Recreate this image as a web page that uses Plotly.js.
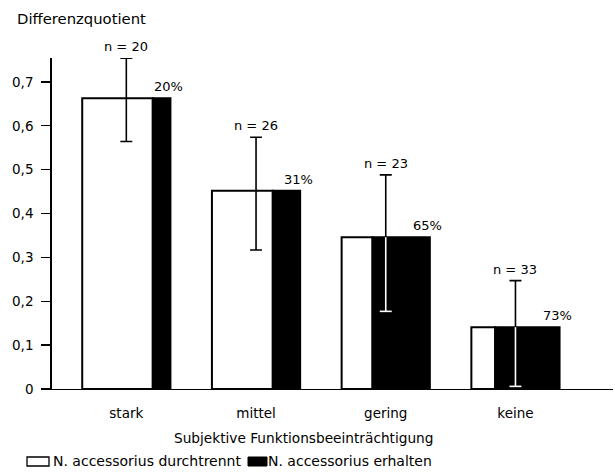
<!DOCTYPE html>
<html>
<head>
<meta charset="utf-8">
<script src="https://cdn.plot.ly/plotly-3.0.1.min.js"></script>
<style>html,body{margin:0;padding:0;background:#fff;}#chart{width:615px;height:472px;}</style>
</head>
<body>
<div id="chart"></div>
<script>
// ---- data ----
var categories = ["stark", "mittel", "gering", "keine"];
var quotient   = [0.663, 0.452, 0.346, 0.141];   // bar height (Differenzquotient)
var errUpper   = [0.754, 0.574, 0.488, 0.247];   // top of error bar
var errLower   = [0.564, 0.317, 0.177, 0.006];   // bottom of error bar
var nValues    = [20, 26, 23, 33];
var pctErhalten = [20, 31, 65, 73];              // % N. accessorius erhalten
var yTickVals  = [0, 0.1, 0.2, 0.3, 0.4, 0.5, 0.6, 0.7];
var yTickText  = ["0", "0,1", "0,2", "0,3", "0,4", "0,5", "0,6", "0,7"];
var legendLabels = ["N. accessorius durchtrennt", "N. accessorius erhalten"];
var xTitle = "Subjektive Funktionsbeeinträchtigung";
var yTitle = "Differenzquotient";

// ---- layout constants ----
var FONT = "DejaVu Sans, Liberation Sans, Arial, sans-serif";
var W = 0.68;                 // total bar width in category units
var idx = categories.map(function(_, i){ return i; });
var frac = pctErhalten.map(function(p){ return p / 100; });

var mL = 52, mR = 2, mT = 58, mB = 83;
var plotW = 615 - mL - mR, plotH = 472 - mT - mB;
function px2x(px){ return (px - mL) / plotW; }
function px2y(py){ return (472 - mB - py) / plotH; }

var whiteBars = {
  type: "bar", x: idx, y: quotient,
  width: frac.map(function(f){ return W * (1 - f); }),
  offset: frac.map(function(){ return -W / 2; }),
  marker: {color: "#ffffff", line: {color: "#000000", width: 2}},
  hoverinfo: "skip", showlegend: false
};
var blackBars = {
  type: "bar", x: idx, y: quotient,
  width: frac.map(function(f){ return W * f; }),
  offset: frac.map(function(f){ return -W / 2 + W * (1 - f); }),
  marker: {color: "#000000", line: {color: "#000000", width: 2}},
  hoverinfo: "skip", showlegend: false
};
var errBlack = {
  type: "scatter", mode: "markers", x: idx, y: quotient,
  marker: {size: 1, color: "rgba(0,0,0,0)"},
  error_y: {type: "data", symmetric: false,
    array: errUpper.map(function(u, i){ return u - quotient[i]; }),
    arrayminus: errLower.map(function(l, i){ return quotient[i] - l; }),
    color: "#000000", thickness: 1.6, width: 6},
  hoverinfo: "skip", showlegend: false
};
// where the error bar runs through the black part of a bar it appears white
var inBlackIdx = idx.filter(function(i){ return frac[i] > 0.5; });
var errWhiteLine = {
  type: "scatter", mode: "markers",
  x: inBlackIdx,
  y: inBlackIdx.map(function(i){ return quotient[i]; }),
  marker: {size: 1, color: "rgba(0,0,0,0)"},
  error_y: {type: "data", symmetric: false,
    array: inBlackIdx.map(function(){ return 0; }),
    arrayminus: inBlackIdx.map(function(i){ return quotient[i] - errLower[i]; }),
    color: "#ffffff", thickness: 1.6, width: 0},
  hoverinfo: "skip", showlegend: false
};
var errWhiteCap = {
  type: "scatter", mode: "markers",
  x: inBlackIdx,
  y: inBlackIdx.map(function(i){ return errLower[i]; }),
  marker: {size: 1, color: "rgba(0,0,0,0)"},
  error_x: {type: "constant", value: 0.046, color: "#ffffff", thickness: 1.6, width: 0},
  hoverinfo: "skip", showlegend: false
};

var annotations = [];
idx.forEach(function(i){
  annotations.push({x: i, y: errUpper[i], xref: "x", yref: "y", text: "n = " + nValues[i],
    showarrow: false, yanchor: "bottom", yshift: 2, font: {family: FONT, size: 13, color: "#000"}});
  annotations.push({x: i + W / 2, y: quotient[i], xref: "x", yref: "y", text: pctErhalten[i] + "%",
    showarrow: false, yanchor: "bottom", xshift: -2, yshift: 2, font: {family: FONT, size: 13, color: "#000"}});
});
// x axis title (centred as in the original, left of plot centre)
annotations.push({x: px2x(303), y: px2y(438), xref: "paper", yref: "paper", xanchor: "center", yanchor: "middle",
  text: xTitle, showarrow: false, font: {family: FONT, size: 13.7, color: "#000"}});
// manual legend
annotations.push({x: px2x(51), y: px2y(461), xref: "paper", yref: "paper", xanchor: "left", yanchor: "middle",
  text: legendLabels[0], showarrow: false, font: {family: FONT, size: 14, color: "#000"}});
annotations.push({x: px2x(266), y: px2y(461), xref: "paper", yref: "paper", xanchor: "left", yanchor: "middle",
  text: legendLabels[1], showarrow: false, font: {family: FONT, size: 14, color: "#000"}});

var shapes = [
  {type: "rect", xref: "paper", yref: "paper", x0: px2x(27), x1: px2x(49), y0: px2y(466), y1: px2y(457),
    line: {color: "#000", width: 1.3}, fillcolor: "#fff"},
  {type: "rect", xref: "paper", yref: "paper", x0: px2x(248), x1: px2x(267), y0: px2y(466), y1: px2y(457),
    line: {color: "#000", width: 1}, fillcolor: "#000"}
];

var layout = {
  width: 615, height: 472,
  margin: {l: mL, r: mR, t: mT, b: mB, pad: 0},
  paper_bgcolor: "#fff", plot_bgcolor: "#fff",
  barmode: "overlay",
  showlegend: false,
  separators: ",.",
  font: {family: FONT, size: 13, color: "#000"},
  title: {text: yTitle, xref: "container", yref: "container",
    x: 17 / 615, xanchor: "left", y: 1 - 19 / 472, yanchor: "middle",
    font: {family: FONT, size: 14.8, color: "#000"}},
  xaxis: {
    range: [-0.573, 3.752], tickmode: "array", tickvals: idx, ticktext: categories,
    showgrid: false, zeroline: false, showline: true, linecolor: "#000", linewidth: 1.2,
    ticks: "", ticklabelstandoff: 12,
    tickfont: {family: FONT, size: 13.5, color: "#000"},
    fixedrange: true
  },
  yaxis: {
    range: [0, 0.7545], tickmode: "array", tickvals: yTickVals, ticktext: yTickText,
    showgrid: false, zeroline: false, showline: true, linecolor: "#000", linewidth: 1.8,
    ticks: "outside", ticklen: 9, tickwidth: 1.4, tickcolor: "#000", ticklabelstandoff: 5,
    tickfont: {family: FONT, size: 13.5, color: "#000"},
    fixedrange: true
  },
  annotations: annotations,
  shapes: shapes
};

Plotly.newPlot("chart", [whiteBars, blackBars, errBlack, errWhiteLine, errWhiteCap], layout,
  {staticPlot: true, displayModeBar: false});
</script>
</body>
</html>
